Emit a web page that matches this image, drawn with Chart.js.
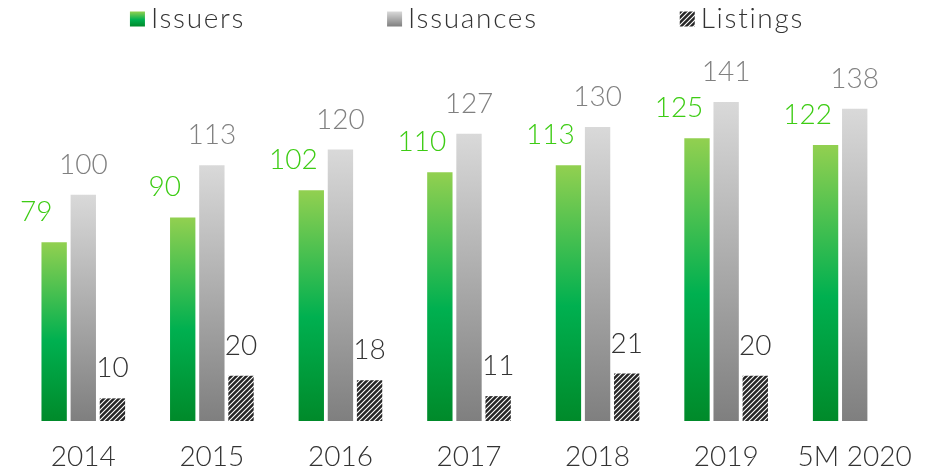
<!DOCTYPE html>
<html>
<head>
<meta charset="utf-8">
<script src="https://cdn.jsdelivr.net/npm/chart.js@4/dist/chart.umd.min.js"></script>
<style>
  html, body { margin: 0; padding: 0; background: #fff; }
  #wrap { width: 934px; height: 472px; }
</style>
</head>
<body>
<div id="wrap"><canvas id="myChart"></canvas></div>
<script>
const categories = ['2014', '2015', '2016', '2017', '2018', '2019', '5M 2020'];
const issuers = [79, 90, 102, 110, 113, 125, 122];
const issuances = [100, 113, 120, 127, 130, 141, 138];
const listings = [10, 20, 18, 11, 21, 20, null];

const FONT = 'Lato';
const WEIGHT = '300';

// diagonal hatch used for listings
function makeHatch() {
  const c = document.createElement('canvas');
  c.width = 5; c.height = 5;
  const g = c.getContext('2d');
  g.fillStyle = '#262626';
  g.fillRect(0, 0, 5, 5);
  g.strokeStyle = '#ffffff';
  g.lineWidth = 1.1;
  g.beginPath();
  g.moveTo(-1, 6); g.lineTo(6, -1);
  g.moveTo(-1, 1); g.lineTo(1, -1);
  g.moveTo(4, 6); g.lineTo(6, 4);
  g.stroke();
  return g.createPattern(c, 'repeat');
}
const hatch = makeHatch();

function barGradient(ctx, stops, fallback) {
  const chart = ctx.chart;
  if (!chart.chartArea || !chart.scales.y || ctx.raw == null) return fallback;
  const y = chart.scales.y;
  const top = y.getPixelForValue(ctx.raw);
  const bottom = y.getPixelForValue(0);
  const grd = chart.ctx.createLinearGradient(0, top, 0, bottom);
  stops.forEach(s => grd.addColorStop(s[0], s[1]));
  return grd;
}

const greenStops = [[0, '#92d050'], [0.55, '#00b050'], [1, '#008a2a']];
const grayStops = [[0, '#d9d9d9'], [1, '#7f7f7f']];

// value labels above bars
const valueLabels = {
  id: 'valueLabels',
  afterDatasetsDraw(chart) {
    const ctx = chart.ctx;
    ctx.save();
    ctx.font = WEIGHT + ' 28px ' + FONT;
    ctx.textAlign = 'center';
    ctx.textBaseline = 'middle';
    chart.data.datasets.forEach((ds, i) => {
      const meta = chart.getDatasetMeta(i);
      meta.data.forEach((el, j) => {
        const v = ds.data[j];
        if (v == null) return;
        ctx.fillStyle = ds.labelColor;
        ctx.fillText(String(v), el.x + ds.labelShift, el.y - 30);
      });
    });
    ctx.restore();
  }
};

// legend drawn across the top
const topLegend = {
  id: 'topLegend',
  afterDraw(chart) {
    const ctx = chart.ctx;
    const box = 15, gapText = 6, gapItem = 142;
    ctx.save();
    ctx.font = WEIGHT + ' 28px ' + FONT;
    ctx.letterSpacing = '1.7px';
    ctx.textBaseline = 'middle';
    ctx.textAlign = 'left';
    const items = chart.data.datasets.map(ds => ({
      label: ds.label, fill: ds.legendFill, w: box + gapText + ctx.measureText(ds.label).width
    }));
    const total = items.reduce((s, it) => s + it.w, 0) + gapItem * (items.length - 1);
    let x = (chart.width - total) / 2;
    const yc = 19;
    items.forEach(it => {
      let fill = it.fill;
      if (Array.isArray(fill)) {
        const g = ctx.createLinearGradient(0, yc - box / 2, 0, yc + box / 2);
        fill.forEach(s => g.addColorStop(s[0], s[1]));
        fill = g;
      }
      ctx.fillStyle = fill;
      ctx.fillRect(x, yc - box / 2, box, box);
      ctx.fillStyle = '#333333';
      ctx.fillText(it.label, x + box + gapText, yc);
      x += it.w + gapItem;
    });
    ctx.restore();
  }
};

const ctx = document.getElementById('myChart').getContext('2d');
const myChart = new Chart(ctx, {
  type: 'bar',
  data: {
    labels: categories,
    datasets: [
      {
        label: 'Issuers',
        data: issuers,
        backgroundColor: c => barGradient(c, greenStops, '#00b050'),
        labelColor: '#3dcc14',
        labelShift: -18,
        legendFill: greenStops
      },
      {
        label: 'Issuances',
        data: issuances,
        backgroundColor: c => barGradient(c, grayStops, '#aaaaaa'),
        labelColor: '#808080',
        labelShift: 0,
        legendFill: grayStops
      },
      {
        label: 'Listings',
        data: listings,
        backgroundColor: hatch,
        labelColor: '#333333',
        labelShift: 0,
        legendFill: hatch
      }
    ]
  },
  options: {
    responsive: true,
    maintainAspectRatio: false,
    animation: false,
    barPercentage: 0.87,
    categoryPercentage: 0.68,
    layout: { padding: { top: 59, left: 19, right: 15, bottom: 0 } },
    plugins: {
      legend: { display: false },
      tooltip: { enabled: false }
    },
    scales: {
      x: {
        grid: { display: false, drawTicks: false },
        border: { display: false },
        ticks: { color: '#333333', padding: 19, font: { family: FONT, size: 28, weight: WEIGHT } },
        afterFit: scale => { scale.height = 51; }
      },
      y: {
        display: false,
        min: 0,
        max: 160
      }
    }
  },
  plugins: [valueLabels, topLegend]
});
</script>
</body>
</html>
